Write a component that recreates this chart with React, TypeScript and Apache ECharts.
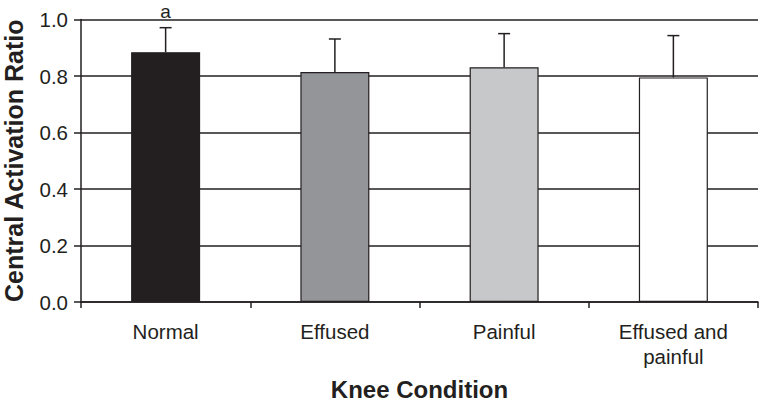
import React, { useEffect, useRef } from "react";
import * as echarts from "echarts";

const categories = ["Normal", "Effused", "Painful", "Effused and\npainful"];
const means = [0.884, 0.814, 0.831, 0.795];
const upperErrors = [0.971, 0.931, 0.950, 0.943];
const annotations = ["a", "", "", ""];
const barColors = ["#231f20", "#939598", "#c7c8ca", "#ffffff"];
const yTicks = [0, 0.2, 0.4, 0.6, 0.8, 1.0];

const FONT = "'Liberation Sans', Arial, Helvetica, sans-serif";
const INK = "#231f20";

export default function App() {
  const ref = useRef<HTMLDivElement>(null);
  useEffect(() => {
    if (!ref.current) return;
    const chart = echarts.init(ref.current, undefined, { renderer: "svg" });
    chart.setOption({
      animation: false,
      backgroundColor: "#ffffff",
      grid: { left: 81, right: 4, top: 19.5, bottom: 101, outerBoundsMode: "none", containLabel: false },
      xAxis: {
        type: "category",
        data: categories,
        name: "Knee Condition",
        nameLocation: "middle",
        nameGap: 75,
        nameTextStyle: { fontFamily: FONT, fontSize: 24, lineHeight: 24, fontWeight: "bold", color: INK },
        axisLine: { lineStyle: { color: INK, width: 1.5 } },
        axisTick: { show: true, length: 6, lineStyle: { color: INK, width: 1.5 } },
        axisLabel: { fontFamily: FONT, fontSize: 20.5, color: INK, margin: 17, lineHeight: 25 },
      },
      yAxis: {
        type: "value",
        min: yTicks[0],
        max: yTicks[yTicks.length - 1],
        interval: 0.2,
        name: "Central Activation Ratio",
        nameLocation: "middle",
        nameGap: 55,
        nameTextStyle: { fontFamily: FONT, fontSize: 25, fontWeight: "bold", color: INK },
        axisLine: { show: true, lineStyle: { color: INK, width: 1.5 } },
        axisTick: { show: true, length: 7, lineStyle: { color: INK, width: 1.5 } },
        axisLabel: {
          fontFamily: FONT, fontSize: 20.5, color: INK, margin: 13,
          formatter: (v: number) => v.toFixed(1),
        },
        splitLine: { show: true, lineStyle: { color: INK, width: 1.6 } },
      },
      series: [
        {
          type: "bar",
          barWidth: 69,
          data: means.map((v, i) => ({
            value: v,
            itemStyle: { color: barColors[i], borderColor: INK, borderWidth: 1.2 },
          })),
          z: 3,
        },
        {
          type: "custom",
          z: 4,
          clip: false,
          data: means.map((v, i) => [i, v, upperErrors[i]]),
          renderItem: (params: any, api: any) => {
            const i = api.value(0);
            const base = api.coord([i, api.value(1)]);
            const top = api.coord([i, api.value(2)]);
            const capHalf = 6;
            const children: any[] = [
              { type: "line", shape: { x1: base[0], y1: base[1], x2: top[0], y2: top[1] }, style: { stroke: INK, lineWidth: 1.5 } },
              { type: "line", shape: { x1: top[0] - capHalf, y1: top[1], x2: top[0] + capHalf, y2: top[1] }, style: { stroke: INK, lineWidth: 1.5 } },
            ];
            const ann = annotations[params.dataIndex];
            if (ann) {
              children.push({
                type: "text",
                x: top[0],
                y: top[1] - 16,
                style: { text: ann, fontFamily: FONT, fontSize: 19, fill: INK, align: "center", verticalAlign: "middle" },
              });
            }
            return { type: "group", children };
          },
        },
      ],
    });
    return () => chart.dispose();
  }, []);
  return <div ref={ref} style={{ position: "fixed", left: 0, top: 0, width: 762, height: 403 }} />;
}
